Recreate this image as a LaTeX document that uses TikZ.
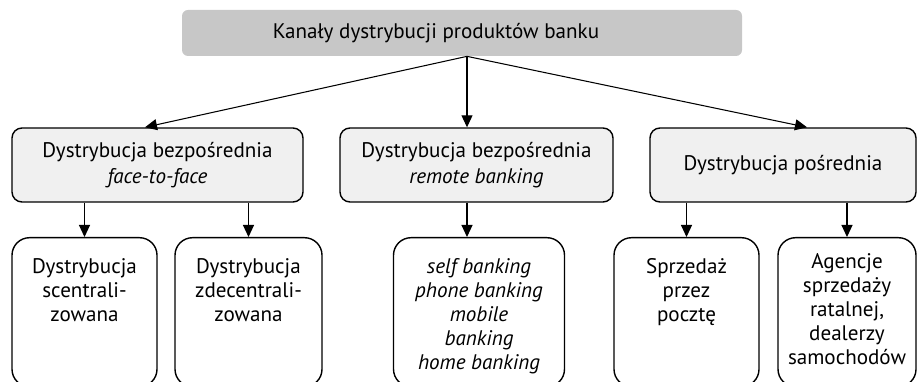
\documentclass[tikz,border=0pt]{standalone}
\usepackage{fontspec}
\setmainfont{PT Sans}
\usepackage{tikz}
\usetikzlibrary{arrows.meta,positioning}

\begin{document}
\begin{tikzpicture}[
    font=\fontsize{12}{13.7}\selectfont,
    rootbox/.style={fill=black!22, rounded corners=0.12cm, minimum width=11.2cm, minimum height=0.92cm},
    branchbox/.style={draw, line width=0.8pt, fill=black!6, rounded corners=0.2cm, minimum height=1.48cm, align=center},
    leafbox/.style={draw, line width=0.8pt, fill=white, rounded corners=0.35cm, minimum height=2.98cm, anchor=north},
    leaftext/.style={inner sep=0pt, align=center, anchor=north},
    link/.style={line width=0.6pt, -{Triangle[length=2.4mm,width=2.2mm]}}
]
    \useasboundingbox (0,0) rectangle (18.34,7.62);
    \clip (0,0) rectangle (18.34,7.62);

    % Root
    \node[rootbox] (root) at (9.24,6.96) {};
    \node (roottext) at ([xshift=-0.52cm]root.center) {Kanały dystrybucji produktów banku};
    \coordinate (fork) at ([xshift=0.1cm]root.south);

    % Second level
    \node[branchbox, minimum width=5.82cm] (direct) at (3.15,4.32) {Dystrybucja bezpośrednia\\[1pt] \textit{face-to-face}};
    \node[branchbox, minimum width=5.46cm] (remote) at (9.53,4.32) {Dystrybucja bezpośrednia\\[1pt] \textit{remote banking}};
    \node[branchbox, minimum width=5.32cm] (indirect) at (15.66,4.32) {Dystrybucja pośrednia};

    \draw[link] (fork) -- ([xshift=-0.25cm]direct.north);
    \draw[link] (fork) -- (fork |- remote.north);
    \draw[link] (fork) -- ([xshift=0.48cm]indirect.north);

    % Third level
    \node[leafbox, minimum width=2.9cm] (central) at (1.69,2.88) {};
    \node[leafbox, minimum width=2.94cm] (decentral) at (4.97,2.88) {};
    \node[leafbox, minimum width=3.42cm] (channels) at (9.58,2.88) {};
    \node[leafbox, minimum width=2.9cm] (post) at (13.73,2.88) {};
    \node[leafbox, minimum width=2.76cm] (agents) at (16.94,2.88) {};

    \node[leaftext, below=0.42cm of central.north] (centraltext) {Dystrybucja\\ scentrali-\\ zowana};
    \node[leaftext, below=0.42cm of decentral.north] (decentraltext) {Dystrybucja\\ zdecentrali-\\ zowana};
    \node[leaftext, font=\fontsize{12}{13.7}\selectfont\itshape, below=0.42cm of channels.north] (channelstext) {self banking\\ phone banking\\ mobile\\ banking\\ home banking};
    \node[leaftext, below=0.42cm of post.north] (posttext) {Sprzedaż\\ przez\\ pocztę};
    \node[leaftext, below=0.32cm of agents.north] (agentstext) {Agencje\\ sprzedaży\\ ratalnej,\\ dealerzy\\ samochodów};

    \draw[link] (central.north |- direct.south) -- (central.north);
    \draw[link] (decentral.north |- direct.south) -- (decentral.north);
    \draw[link] (fork |- remote.south) -- (fork |- channels.north);
    \draw[link] (post.north |- indirect.south) -- (post.north);
    \draw[link] (agents.north |- indirect.south) -- (agents.north);

\end{tikzpicture}
\end{document}
